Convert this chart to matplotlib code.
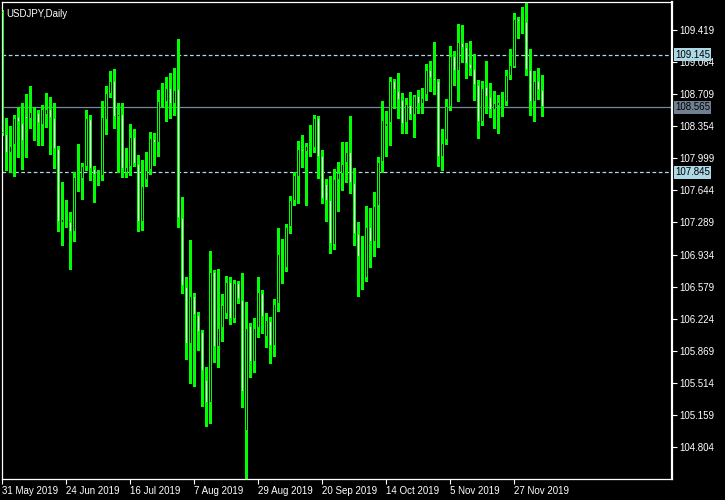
import pandas as pd
import numpy as np
import matplotlib
matplotlib.use("Agg")
import matplotlib.pyplot as plt
import matplotlib.transforms as mtransforms

# USDJPY daily bars, 31 May 2019 .. 6 Dec 2019
dates = pd.bdate_range("2019-05-31", "2019-12-06")

opens = [109.618, 108.264, 108.054, 108.143, 108.456, 108.386, 108.464, 108.430, 108.523, 108.497,
         108.371, 108.478, 108.541, 108.445, 108.098, 107.279, 107.309, 107.294, 107.180, 107.792,
         107.774, 107.907, 108.434, 107.877, 107.822, 107.807, 108.419, 108.714, 108.851, 108.453,
         108.486, 107.840, 107.899, 108.235, 107.936, 107.290, 107.759, 107.866, 108.209, 108.172,
         108.630, 108.618, 108.773, 108.604, 108.762, 107.335, 106.571, 105.940, 106.472, 106.261,
         106.073, 105.542, 105.295, 106.737, 105.907, 106.117, 106.272, 106.626, 106.217, 106.615,
         106.427, 104.985, 106.143, 105.741, 106.117, 106.505, 106.025, 106.202, 105.926, 106.383,
         106.929, 106.789, 107.235, 107.523, 107.796, 108.098, 108.065, 108.132, 108.109, 108.445,
         108.025, 107.715, 107.534, 107.040, 107.755, 107.829, 107.951, 108.065, 107.722, 107.165,
         106.911, 106.671, 107.235, 107.069, 107.468, 107.955, 108.342, 108.386, 108.855, 108.740,
         108.641, 108.386, 108.593, 108.478, 108.685, 108.596, 108.703, 108.973, 108.884, 108.851,
         108.017, 108.205, 108.567, 109.135, 108.962, 109.271, 109.227, 109.039, 108.984, 108.807,
         108.405, 108.785, 108.674, 108.534, 108.582, 108.618, 108.626, 108.906, 109.013, 109.537,
         109.504, 109.511, 108.973, 108.618, 108.851, 108.751]
highs = [109.640, 108.441, 108.357, 108.478, 108.563, 108.611, 108.711, 108.799, 108.563, 108.534,
         108.585, 108.718, 108.678, 108.611, 108.135, 107.741, 107.538, 107.405, 107.844, 108.157,
         107.943, 108.534, 108.478, 107.918, 107.870, 108.633, 108.803, 108.969, 108.987, 108.611,
         108.611, 108.113, 108.379, 108.327, 108.036, 107.980, 108.069, 108.290, 108.283, 108.755,
         108.832, 108.899, 108.943, 108.998, 109.319, 107.575, 106.689, 107.095, 106.505, 106.302,
         106.099, 105.689, 106.973, 106.763, 106.770, 106.497, 106.696, 106.689, 106.652, 106.641,
         106.726, 106.413, 106.173, 106.228, 106.689, 106.542, 106.283, 106.246, 106.442, 107.228,
         107.106, 107.272, 107.582, 107.851, 108.191, 108.257, 108.165, 108.368, 108.478, 108.467,
         108.091, 107.770, 107.803, 107.881, 107.955, 108.180, 108.180, 108.467, 107.892, 107.294,
         107.139, 107.471, 107.449, 107.626, 108.017, 108.633, 108.523, 108.899, 108.877, 108.943,
         108.722, 108.666, 108.729, 108.700, 108.755, 108.773, 109.043, 109.076, 109.286, 108.877,
         108.323, 108.655, 109.242, 109.187, 109.485, 109.474, 109.279, 109.297, 109.150, 108.866,
         108.855, 109.076, 108.829, 108.744, 108.700, 108.729, 108.976, 109.209, 109.603, 109.559,
         109.674, 109.722, 109.205, 108.965, 108.998, 108.921]
lows = [108.257, 107.870, 107.851, 107.807, 108.017, 107.877, 108.017, 108.338, 108.202, 108.150,
        108.146, 108.349, 108.050, 107.895, 107.198, 107.040, 107.243, 106.770, 107.088, 107.641,
        107.552, 107.870, 107.759, 107.519, 107.704, 107.759, 108.268, 108.674, 108.338, 107.844,
        107.796, 107.796, 107.814, 107.918, 107.198, 107.206, 107.693, 107.825, 107.925, 108.025,
        108.563, 108.416, 108.449, 108.478, 107.243, 106.505, 105.778, 105.516, 105.483, 105.878,
        105.262, 105.040, 105.066, 105.748, 105.693, 105.981, 106.228, 106.165, 106.191, 106.394,
        105.250, 104.450, 105.582, 105.638, 106.018, 106.062, 105.914, 105.730, 105.815, 106.313,
        106.615, 106.756, 107.176, 107.486, 107.508, 107.899, 107.486, 108.025, 108.073, 107.785,
        107.508, 107.309, 106.955, 106.995, 107.420, 107.648, 107.741, 107.619, 107.040, 106.479,
        106.556, 106.645, 106.800, 106.922, 107.021, 107.851, 108.028, 108.150, 108.552, 108.449,
        108.283, 108.283, 108.438, 108.239, 108.497, 108.504, 108.644, 108.748, 108.714, 107.918,
        107.870, 108.157, 108.534, 108.810, 108.637, 109.069, 108.892, 108.921, 108.648, 108.227,
        108.371, 108.504, 108.453, 108.338, 108.275, 108.471, 108.593, 108.873, 109.006, 109.327,
        109.390, 108.925, 108.478, 108.416, 108.652, 108.471]
closes = [108.275, 108.054, 108.135, 108.445, 108.397, 108.187, 108.430, 108.508, 108.497, 108.386,
          108.545, 108.541, 108.441, 108.098, 107.290, 107.327, 107.290, 107.180, 107.792, 107.777,
          107.914, 108.445, 107.877, 107.814, 107.807, 108.456, 108.718, 108.851, 108.460, 108.486,
          107.884, 107.899, 108.235, 107.936, 107.290, 107.689, 107.866, 108.224, 108.172, 108.630,
          108.655, 108.773, 108.596, 108.755, 107.335, 106.590, 105.940, 106.472, 106.261, 106.073,
          105.642, 105.287, 106.737, 105.907, 106.117, 106.372, 106.626, 106.217, 106.615, 106.442,
          105.409, 106.117, 105.741, 106.117, 106.516, 106.246, 106.210, 105.926, 106.387, 106.936,
          106.903, 107.235, 107.534, 107.811, 108.098, 108.073, 108.135, 108.109, 108.445, 108.017,
          107.552, 107.530, 107.054, 107.770, 107.836, 107.936, 108.065, 107.729, 107.165, 106.903,
          106.888, 107.235, 107.069, 107.468, 107.955, 108.419, 108.386, 108.851, 108.755, 108.644,
          108.375, 108.596, 108.478, 108.689, 108.596, 108.663, 108.973, 108.884, 108.851, 108.017,
          108.165, 108.574, 109.135, 108.962, 109.283, 109.216, 109.039, 108.984, 108.807, 108.405,
          108.777, 108.674, 108.534, 108.607, 108.618, 108.644, 108.917, 109.028, 109.537, 109.504,
          109.482, 108.973, 108.626, 108.851, 108.751, 108.565]

yticks = [109.419, 109.064, 108.709, 108.354, 107.999, 107.644, 107.289,
          106.934, 106.579, 106.224, 105.869, 105.514, 105.159, 104.804]
level_lines = [109.145, 107.845]
bid = 108.565

fig = plt.figure(figsize=(7.25, 5.0), dpi=100, facecolor="black")
ax = fig.add_axes([2 / 725, 21 / 500, 670 / 725, 477 / 500], facecolor="black")
ymin, ymax = 104.450, 109.729
px = (ymax - ymin) / 477.0   # one pixel in price units

x = np.arange(len(dates))
o = np.array(opens)
h = np.array(highs)
l = np.array(lows)
c = np.array(closes)

# wicks
ax.vlines(x, l, h, color="#00ff00", linewidth=0.75, antialiased=False, zorder=2)
# bodies: 3px lime block, 1px inner stripe (bull black, bear white)
bottom = np.minimum(o, c)
height = np.maximum(np.abs(c - o), px)
ax.bar(x, height, bottom=bottom, width=0.75, color="#00ff00", linewidth=0,
       antialiased=False, zorder=3)
face = np.where(c >= o, "black", "white")
inner = height - 2 * px
keep = inner > 0
ax.bar(x[keep], inner[keep], bottom=bottom[keep] + px, width=0.25, color=face[keep],
       linewidth=0, antialiased=False, zorder=4)

for lv in level_lines:
    ax.axhline(lv, color="#add8e6", linewidth=0.9, linestyle=(0, (3, 2)), zorder=1)
ax.axhline(bid, color="#778899", linewidth=0.9, zorder=1)

ax.set_xlim(0, 167.5)
ax.set_ylim(ymin, ymax)

for s in ax.spines.values():
    s.set_color("white")
    s.set_linewidth(0.9)
ax.spines["right"].set_linewidth(1.6)

ax.yaxis.tick_right()
ax.set_yticks(yticks)
ax.set_yticklabels([f"{v:.3f}" for v in yticks])
ax.tick_params(axis="y", colors="white", length=3.5, width=0.8, pad=1.5,
               labelsize=7, labelcolor="white")

tick_idx = list(range(0, len(dates), 16))
ax.set_xticks(tick_idx)
ax.set_xticklabels([f"{dates[i].day} {dates[i].strftime('%b %Y')}" for i in tick_idx],
                   ha="left")
ax.tick_params(axis="x", colors="white", length=3.5, width=0.8, pad=1.5,
               labelsize=7, labelcolor="white")
for lab in ax.get_xticklabels() + ax.get_yticklabels():
    lab.set_family("Liberation Sans")

trans = mtransforms.blended_transform_factory(ax.transAxes, ax.transData)
for lv in level_lines:
    ax.text(1.0045, lv, f"{lv:.3f}", transform=trans, ha="left", va="center",
            fontsize=7, family="Liberation Sans", color="black",
            bbox=dict(boxstyle="square,pad=0.15", fc="#add8e6", ec="none"), zorder=5,
            clip_on=False)
ax.text(1.0045, bid, f"{bid:.3f}", transform=trans, ha="left", va="center",
        fontsize=7, family="Liberation Sans", color="black",
        bbox=dict(boxstyle="square,pad=0.15", fc="#708090", ec="none"), zorder=5,
        clip_on=False)

ax.text(0.006, 0.985, "USDJPY,Daily", transform=ax.transAxes, ha="left", va="top",
        fontsize=7, family="Liberation Sans", color="white")

fig.savefig("out.png", dpi=100, facecolor="black")
